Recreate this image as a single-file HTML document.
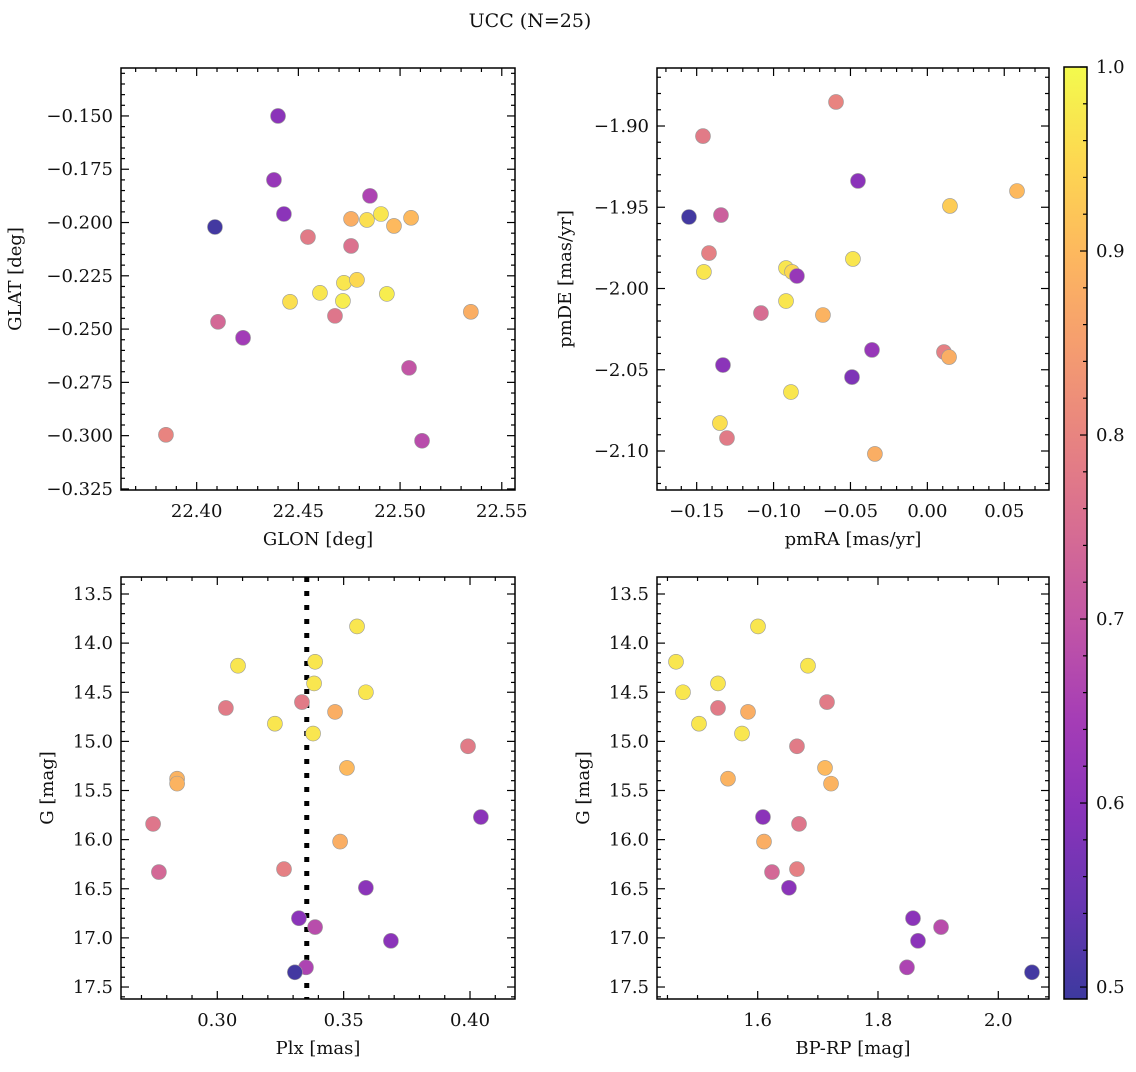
<!DOCTYPE html>
<html><head><meta charset="utf-8"><style>
body{margin:0;background:#fff;}
svg text{font-family:"DejaVu Serif","Liberation Serif",serif;fill:#111;}
</style></head><body>
<svg id="fig" width="1136" height="1067" viewBox="0 0 1136 1067" xmlns="http://www.w3.org/2000/svg">
<text x="530" y="27" font-size="19" text-anchor="middle">UCC (N=25)</text>
</svg>
<script>
// Panel 1: GLON / GLAT
const glon = [22.4400,22.4380,22.4852,22.4429,22.4090,22.4759,22.4837,22.4906,22.4970,22.5054,22.4547,22.4759,22.4724,22.4788,22.4459,22.4606,22.4719,22.4935,22.4680,22.4105,22.4228,22.5044,22.5348,22.3849,22.5108];
const glat = [-0.150,-0.180,-0.1875,-0.196,-0.2021,-0.1983,-0.1988,-0.196,-0.2016,-0.1978,-0.2068,-0.211,-0.2283,-0.2269,-0.2372,-0.233,-0.2368,-0.2335,-0.2438,-0.2466,-0.2541,-0.2682,-0.2419,-0.2996,-0.3024];
const prob1 = [0.60,0.62,0.66,0.60,0.50,0.88,0.96,0.97,0.90,0.90,0.78,0.76,0.97,0.95,0.96,0.97,0.98,0.98,0.77,0.74,0.64,0.70,0.88,0.80,0.68];
// Panel 2: pmRA / pmDE
const pmra = [-0.0594,-0.1459,-0.1550,-0.1342,-0.0451,0.0583,0.0147,-0.1420,-0.1453,-0.0919,-0.0880,-0.0848,-0.0484,-0.0919,-0.1082,-0.0679,0.0108,0.0141,-0.0360,-0.1329,-0.0490,-0.0887,-0.1349,-0.1303,-0.0341];
const pmde = [-1.8852,-1.9062,-1.956,-1.9548,-1.9338,-1.940,-1.9492,-1.9782,-1.9898,-1.9874,-1.9898,-1.9923,-1.9818,-2.0077,-2.0151,-2.0163,-2.0391,-2.0422,-2.0378,-2.0471,-2.0545,-2.0637,-2.0828,-2.092,-2.1018];
const prob2 = [0.80,0.78,0.50,0.72,0.60,0.90,0.93,0.79,0.97,0.97,0.95,0.62,0.97,0.97,0.75,0.89,0.79,0.88,0.62,0.60,0.58,0.97,0.96,0.78,0.88];
// Panels 3 & 4: Plx, BP-RP, G
const gmag = [13.83,14.19,14.23,14.41,14.50,14.60,14.66,14.70,14.82,14.92,15.05,15.27,15.38,15.43,15.77,15.84,16.02,16.30,16.33,16.49,16.80,16.89,17.03,17.30,17.35];
const plx = [0.3553,0.3387,0.3082,0.3383,0.3588,0.3335,0.3034,0.3466,0.3228,0.3379,0.3992,0.3513,0.2841,0.2841,0.4043,0.2746,0.3486,0.3264,0.2769,0.3588,0.3323,0.3387,0.3687,0.3351,0.3307];
const bprp = [1.6005,1.4642,1.6836,1.5340,1.4758,1.7152,1.5340,1.5839,1.5024,1.5739,1.6653,1.7119,1.5506,1.7219,1.6088,1.6687,1.6105,1.6653,1.6238,1.6520,1.8582,1.9048,1.8665,1.8482,2.0560];
const prob34 = [0.97,0.97,0.97,0.97,0.97,0.78,0.78,0.88,0.97,0.97,0.78,0.90,0.89,0.89,0.60,0.77,0.88,0.79,0.74,0.60,0.60,0.68,0.60,0.66,0.50];
const plxLine = 0.3354;
const cbTicks = [0.5,0.6,0.7,0.8,0.9,1.0];

const svg = document.getElementById('fig');
const NS = 'http://www.w3.org/2000/svg';
function mk(tag, attrs, parent){const e=document.createElementNS(NS,tag);for(const k in attrs)e.setAttribute(k,attrs[k]);(parent||svg).appendChild(e);return e;}

const stops=['#0d0887','#41049d','#6a00a8','#8f0da4','#b12a90','#cc4778','#e16462','#f2844b','#fca636','#fcce25','#f0f921'];
function hex(h){return [parseInt(h.slice(1,3),16),parseInt(h.slice(3,5),16),parseInt(h.slice(5,7),16)];}
const vmin=0.4935,vmax=1.0;
function cmap(v){let t=(v-vmin)/(vmax-vmin);t=Math.max(0,Math.min(1,t));const f=t*10,i=Math.min(9,Math.floor(f)),r=f-i;
 const a=hex(stops[i]),b=hex(stops[i+1]);const c=a.map((x,j)=>Math.round((x+(b[j]-x)*r)*0.8+255*0.2));return `rgb(${c[0]},${c[1]},${c[2]})`;}

function panel(p){
 const g=mk('g',{});
 
 
 const sx=v=>p.x0+(v-p.xmin)/(p.xmax-p.xmin)*(p.x1-p.x0);
 const sy=v=>p.y1-(v-p.ymin)/(p.ymax-p.ymin)*(p.y1-p.y0);
 const ax=mk('g',{},g);
 const eps=1e-9;
 for(let k=Math.ceil(p.xmin/p.xminor-eps); k*p.xminor<=p.xmax+eps; k++){
  const v=k*p.xminor;
  const X=sx(v);const isMaj=Math.abs(v/p.xmajor-Math.round(v/p.xmajor))<1e-6;const L=isMaj?8:4;
  mk('line',{x1:X,x2:X,y1:p.y1,y2:p.y1-L,stroke:'#000','stroke-width':1.2},ax);
  mk('line',{x1:X,x2:X,y1:p.y0,y2:p.y0+L,stroke:'#000','stroke-width':1.2},ax);
  if(isMaj){const t=mk('text',{x:X,y:p.y1+27,'font-size':18,'text-anchor':'middle'},ax);t.textContent=p.xfmt(v);
   }
 }
 for(let k=Math.ceil(p.ymin/p.yminor-eps); k*p.yminor<=p.ymax+eps; k++){
  const v=k*p.yminor;
  const Y=sy(v);const isMaj=Math.abs(v/p.ymajor-Math.round(v/p.ymajor))<1e-6;const L=isMaj?8:4;
  mk('line',{x1:p.x0,x2:p.x0+L,y1:Y,y2:Y,stroke:'#000','stroke-width':1.2},ax);
  mk('line',{x1:p.x1,x2:p.x1-L,y1:Y,y2:Y,stroke:'#000','stroke-width':1.2},ax);
  if(isMaj){const t=mk('text',{x:p.x0-8,y:Y+6,'font-size':18,'text-anchor':'end'},ax);t.textContent=p.yfmt(v);
   }
 }
 if(p.vline!==undefined){const l=mk('line',{x1:sx(p.vline),x2:sx(p.vline),y1:p.y0,y2:p.y1,stroke:'#000','stroke-width':5,'stroke-dasharray':'5,9'},g);
  }
 for(let i=0;i<p.xs.length;i++){
  const c=mk('circle',{cx:sx(p.xs[i]),cy:sy(p.ys[i]),r:7.5,fill:cmap(p.cs[i]),stroke:'#999','stroke-width':0.6},g);
  
  
 }
 const fr=mk('rect',{x:p.x0,y:p.y0,width:p.x1-p.x0,height:p.y1-p.y0,fill:'none',stroke:'#000','stroke-width':1.5},g);
 
 const xl=mk('text',{x:(p.x0+p.x1)/2,y:p.y1+55,'font-size':18,'text-anchor':'middle'},g);xl.textContent=p.xlabel;
 
 const yx=p.x0-p.ylabOff,yc=(p.y0+p.y1)/2;
 const yl=mk('text',{x:yx,y:yc,'font-size':18,'text-anchor':'middle',transform:`rotate(-90 ${yx} ${yc})`},g);yl.textContent=p.ylabel;
 
}
panel({name:'glon-glat-panel',x0:121,x1:515,y0:68,y1:490,xmin:22.3628,xmax:22.5565,ymin:-0.3255,ymax:-0.1275,
 xmajor:0.05,xminor:0.01,ymajor:0.025,yminor:0.005,xfmt:v=>v.toFixed(2),yfmt:v=>(v<0?'\u2212':'')+Math.abs(v).toFixed(3),
 xs:glon,ys:glat,cs:prob1,xlabel:'GLON [deg]',ylabel:'GLAT [deg]',ylabOff:100});
panel({name:'pmra-pmde-panel',x0:657,x1:1049,y0:68,y1:490,xmin:-0.1758,xmax:0.0791,ymin:-2.124,ymax:-1.8643,
 xmajor:0.05,xminor:0.01,ymajor:0.05,yminor:0.01,xfmt:v=>(v<-1e-9?'\u2212':'')+Math.abs(v).toFixed(2),yfmt:v=>'\u2212'+Math.abs(v).toFixed(2),
 xs:pmra,ys:pmde,cs:prob2,xlabel:'pmRA [mas/yr]',ylabel:'pmDE [mas/yr]',ylabOff:86});
panel({name:'plx-g-panel',x0:121,x1:515,y0:577,y1:999,xmin:0.2619,xmax:0.4178,ymin:-17.622,ymax:-13.327,
 xmajor:0.05,xminor:0.01,ymajor:0.5,yminor:0.1,xfmt:v=>v.toFixed(2),yfmt:v=>Math.abs(v).toFixed(1),
 xs:plx,ys:gmag.map(v=>-v),cs:prob34,xlabel:'Plx [mas]',ylabel:'G [mag]',ylabOff:68,vline:plxLine});
panel({name:'bprp-g-panel',x0:657,x1:1049,y0:577,y1:999,xmin:1.4326,xmax:2.0843,ymin:-17.622,ymax:-13.327,
 xmajor:0.2,xminor:0.05,ymajor:0.5,yminor:0.1,xfmt:v=>v.toFixed(1),yfmt:v=>Math.abs(v).toFixed(1),
 xs:bprp,ys:gmag.map(v=>-v),cs:prob34,xlabel:'BP-RP [mag]',ylabel:'G [mag]',ylabOff:68});

// colorbar
const cb=mk('g',{});


const defs=mk('defs',{},cb);const lg=mk('linearGradient',{id:'cbg',x1:0,y1:1,x2:0,y2:0},defs);
for(let i=0;i<=20;i++){const v=vmin+(vmax-vmin)*i/20;mk('stop',{offset:(i/20),'stop-color':cmap(v)},lg);}
const cbx0=1064,cbx1=1087,cby0=67,cby1=999;
const cy=v=>cby1-(v-vmin)/(vmax-vmin)*(cby1-cby0);
mk('rect',{x:cbx0,y:cby0,width:cbx1-cbx0,height:cby1-cby0,fill:'url(#cbg)',stroke:'#000','stroke-width':1.5},cb);
for(let k=25;k<=50;k++){const v=k/50;if(v<vmin)continue;const Y=cy(v);const maj=k%5===0;
 mk('line',{x1:cbx1,x2:cbx1-(maj?7:4),y1:Y,y2:Y,stroke:'#000','stroke-width':1.2},cb);}
cbTicks.forEach(v=>{const t=mk('text',{x:cbx1+9,y:cy(v)+6,'font-size':18},cb);t.textContent=v.toFixed(1);
 });
</script>
</body></html>
